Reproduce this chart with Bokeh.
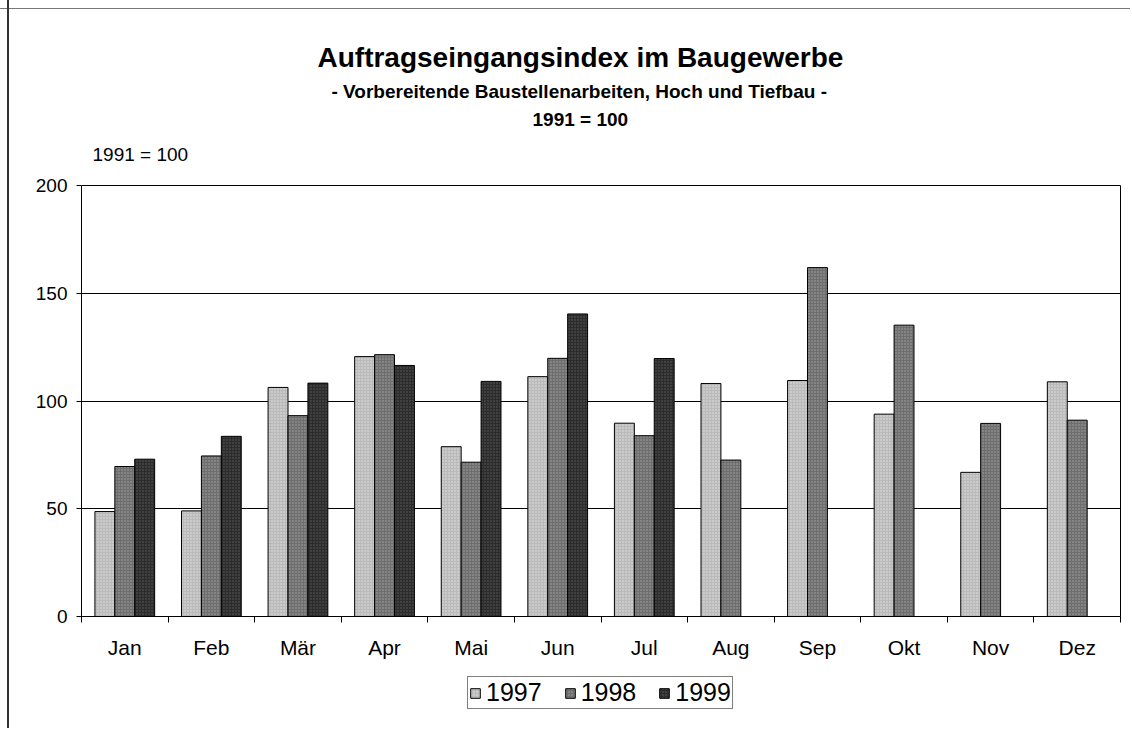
from bokeh.plotting import figure
from bokeh.layouts import column
from bokeh.models import (Range1d, FixedTicker, Legend, LegendItem, Title,
                          CustomJSTickFormatter)
from bokeh.embed import file_html
from bokeh.resources import INLINE

# ---- data ----
months = ["Jan", "Feb", "Mär", "Apr", "Mai", "Jun", "Jul", "Aug", "Sep", "Okt", "Nov", "Dez"]
years = ["1997", "1998", "1999"]
v1997 = [48.7, 49.0, 106.3, 120.6, 78.8, 111.3, 89.7, 108.1, 109.5, 93.9, 66.9, 108.9]
v1998 = [69.6, 74.5, 93.2, 121.5, 71.6, 119.8, 83.9, 72.6, 161.9, 135.2, 89.6, 91.1]
v1999 = [73.0, 83.6, 108.3, 116.5, 109.1, 140.4, 119.7]   # Jan - Jul only
y_ticks = [0, 50, 100, 150, 200]

title_text = "Auftragseingangsindex im Baugewerbe"
subtitle_text = "- Vorbereitende Baustellenarbeiten, Hoch und Tiefbau -"
base_text = "1991 = 100"

FONT = "Liberation Sans"
fills = ["#bababa", "#6e6e6e", "#2c2c2c"]
hatches = ["#ffffff", "#c8c8c8", "#808080"]
series = [v1997, v1998, v1999]

p = figure(width=1130, height=668, output_backend="svg", toolbar_location=None,
           x_range=Range1d(0, 12), y_range=Range1d(0, 200),
           min_border_left=81, min_border_right=10, min_border_top=185,
           min_border_bottom=52)
p.border_fill_color = None
p.background_fill_color = "white"
p.styles = {"background": "linear-gradient(#333333, #333333) 7px 0px / 2px 100% no-repeat, "
                          "linear-gradient(#777777, #777777) 0px 8px / 100% 1px no-repeat, white"}

p.outline_line_color = "black"
p.outline_line_width = 1
p.xgrid.visible = False
p.ygrid.grid_line_color = "black"
p.ygrid.grid_line_width = 1
p.ygrid.ticker = FixedTicker(ticks=y_ticks)

bw = 0.23
for k, vals in enumerate(series):
    xs = [i + 0.5 + (k - 1) * bw for i in range(len(vals))]
    p.vbar(x=xs, top=vals, bottom=0, width=bw, fill_color=fills[k],
           line_color="black", line_width=1,
           hatch_pattern="dot", hatch_color=hatches[k], hatch_scale=3, hatch_alpha=0.6)

# x axis: labels at category centres, tick marks at category boundaries
xa = p.xaxis[0]
xa.ticker = FixedTicker(ticks=[i + 0.5 for i in range(12)], minor_ticks=list(range(13)))
xa.formatter = CustomJSTickFormatter(args=dict(m=months), code="return m[Math.floor(tick)] || '';")
xa.major_tick_out = 0
xa.major_tick_in = 0
xa.minor_tick_out = 6
xa.minor_tick_in = 0
xa.minor_tick_line_color = "black"
xa.axis_line_color = "black"
xa.major_label_standoff = 13
xa.major_label_text_font = FONT
xa.major_label_text_font_size = "21px"
xa.major_label_text_color = "black"

ya = p.yaxis[0]
ya.ticker = FixedTicker(ticks=y_ticks)
ya.major_tick_out = 5
ya.major_tick_in = 0
ya.minor_tick_line_color = None
ya.axis_line_color = "black"
ya.major_tick_line_color = "black"
ya.major_label_standoff = 9
ya.major_label_text_font = FONT
ya.major_label_text_font_size = "19px"
ya.major_label_text_color = "black"

# main title (outermost)
p.title.text = title_text
p.title.align = "left"
p.title.offset = 236
p.title.standoff = -12
p.title.text_font = FONT
p.title.text_font_size = "28px"
p.title.text_font_style = "bold"
p.title.text_color = "black"

# further title lines, nearest the plot first
p.add_layout(Title(text=base_text, align="left", offset=11, standoff=41,
                   text_font=FONT, text_font_size="19px", text_font_style="normal",
                   text_color="black"), "above")
p.add_layout(Title(text=base_text, align="left", offset=451, standoff=-16,
                   text_font=FONT, text_font_size="19px", text_font_style="bold",
                   text_color="black"), "above")
p.add_layout(Title(text=subtitle_text, align="left", offset=250, standoff=25,
                   text_font=FONT, text_font_size="19px", text_font_style="bold",
                   text_color="black"), "above")

# legend strip below the chart (its frame is aligned with the chart's frame)
pl = figure(width=1130, height=60, output_backend="svg", toolbar_location=None,
            x_range=Range1d(0, 12), y_range=Range1d(0, 200),
            min_border_left=0, min_border_right=0, min_border_top=0, min_border_bottom=0)
pl.axis.visible = False
pl.grid.visible = False
pl.outline_line_color = None
pl.border_fill_color = None
pl.background_fill_color = None
pl.styles = {"background": "linear-gradient(#333333, #333333) 7px 0px / 2px 100% no-repeat, white"}
leg_renderers = []
for k, vals in enumerate(series):
    xs = [i + 0.5 + (k - 1) * bw for i in range(len(vals))]
    leg_renderers.append(pl.vbar(x=xs, top=vals, bottom=0, width=bw, fill_color=fills[k],
                                 line_color="black", line_width=1,
                                 hatch_pattern="dot", hatch_color=hatches[k],
                                 hatch_scale=3, hatch_alpha=0.6, visible=False))
legend = Legend(items=[LegendItem(label=y, renderers=[r]) for y, r in zip(years, leg_renderers)],
                orientation="horizontal", location=(386, 19),
                border_line_color="black", border_line_width=1,
                label_text_font=FONT, label_text_font_size="25px", label_text_color="black",
                glyph_width=12, glyph_height=12, spacing=22, padding=1, margin=0,
                label_standoff=5, label_height=20,
                inactive_fill_alpha=0, background_fill_alpha=1)
pl.add_layout(legend, "center")

layout = column(p, pl, spacing=0)
open("out.html", "w").write(file_html(layout, INLINE))
